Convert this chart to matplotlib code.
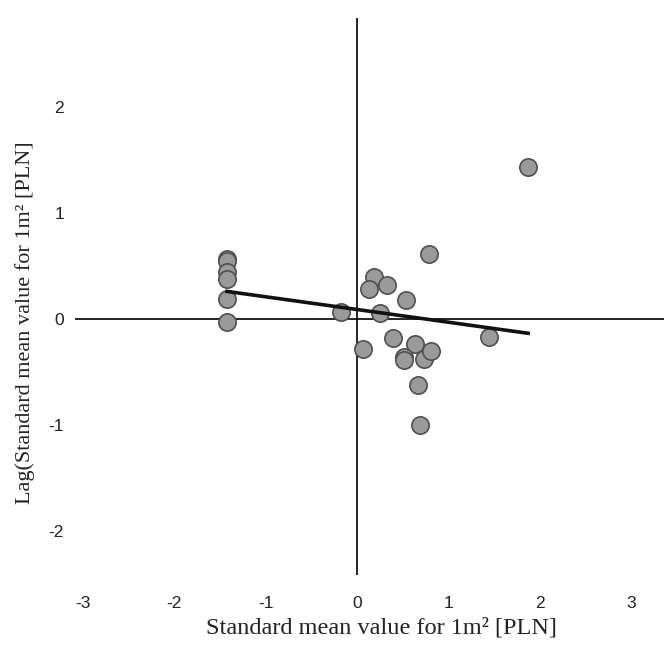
import numpy as np
import matplotlib
matplotlib.use('Agg')
import matplotlib.pyplot as plt

# standardized value (x) and its spatial lag (y)
std_val = [1.87, 0.79, -1.42, -1.42, -1.42, -1.42, -1.42, -1.42,
           0.19, 0.13, 0.33, 0.53, -0.18, 0.25, 0.07, 0.39,
           0.63, 0.51, 0.51, 0.73, 0.81, 0.67, 0.69, 1.44]
lag_val = [1.43, 0.61, 0.57, 0.55, 0.44, 0.38, 0.19, -0.03,
           0.40, 0.28, 0.32, 0.18, 0.07, 0.06, -0.28, -0.18,
           -0.24, -0.36, -0.39, -0.38, -0.30, -0.62, -1.00, -0.17]

# fitted line endpoints
fit_x = [-1.42, 1.87]
fit_y = [0.26, -0.135]

xticks = [-3, -2, -1, 0, 1, 2, 3]
yticks = [-2, -1, 0, 1, 2]

fig = plt.figure(figsize=(6.64, 6.47), dpi=100)
ax = fig.add_axes([0.113, 0.1113, 0.887, 0.861])

ax.axhline(0, color='black', lw=1.2, zorder=1)
ax.axvline(0, color='black', lw=1.2, zorder=1)

ax.scatter(std_val, lag_val, s=155, facecolor='#9a9a9a', edgecolor='#505050',
           linewidth=1.2, zorder=3)
ax.plot(fit_x, fit_y, color='#111111', lw=2.6, zorder=4)

ax.set_xlim(-3.082, 3.355)
ax.set_ylim(-2.415, 2.84)
ax.set_xticks(xticks)
ax.set_yticks(yticks)
ax.set_xticklabels([str(t) for t in xticks], fontsize=12.5, family='Liberation Sans', color='#222222')
ax.set_yticklabels([str(t) for t in yticks], fontsize=12.5, family='Liberation Sans', color='#222222')
ax.tick_params(axis='x', length=0, pad=15)
ax.tick_params(axis='y', length=0, pad=8)
for s in ax.spines.values():
    s.set_visible(False)

fig.text(0.574, 0.029, 'Standard mean value for 1m\u00b2 [PLN]', ha='center', va='center',
         fontsize=17.5, family='Liberation Serif', color='#222222')
fig.text(0.038, 0.502, 'Lag(Standard mean value for 1m\u00b2 [PLN]', ha='center', va='center',
         rotation=90, fontsize=16, family='Liberation Serif', color='#222222')

plt.savefig('out.png', dpi=100)
